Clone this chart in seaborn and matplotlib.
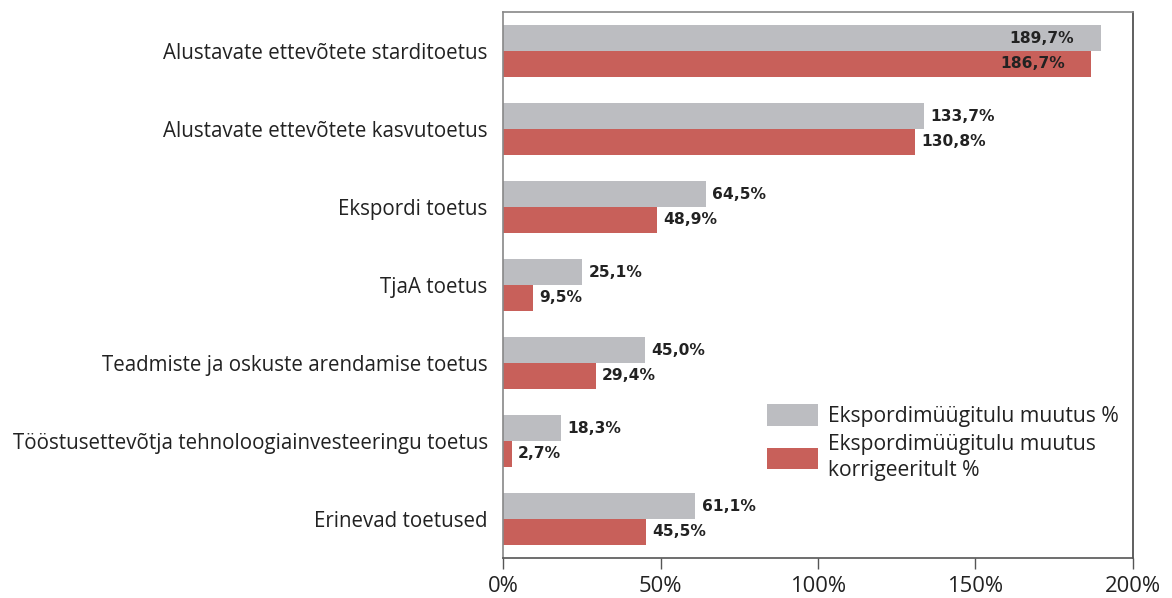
import matplotlib
matplotlib.use("Agg")
import matplotlib.pyplot as plt
import seaborn as sns
import pandas as pd

categories = [
    "Alustavate ettevõtete starditoetus",
    "Alustavate ettevõtete kasvutoetus",
    "Ekspordi toetus",
    "TjaA toetus",
    "Teadmiste ja oskuste arendamise toetus",
    "Tööstusettevõtja tehnoloogiainvesteeringu toetus",
    "Erinevad toetused",
]
series_names = ["Ekspordimüügitulu muutus %", "Ekspordimüügitulu muutus\nkorrigeeritult %"]
muutus = [189.7, 133.7, 64.5, 25.1, 45.0, 18.3, 61.1]
korrigeeritult = [186.7, 130.8, 48.9, 9.5, 29.4, 2.7, 45.5]
x_ticks = [0, 50, 100, 150, 200]
x_tick_labels = ["0%", "50%", "100%", "150%", "200%"]

colors = ["#BCBDC1", "#C8605A"]

df = pd.DataFrame({
    "Toetus": categories * 2,
    "Väärtus": muutus + korrigeeritult,
    "Seeria": [series_names[0]] * len(categories) + [series_names[1]] * len(categories),
})

sns.set_theme(style="white")
plt.rcParams["font.family"] = ["Open Sans", "DejaVu Sans"]

fig = plt.figure(figsize=(11.72, 5.98), dpi=100)
ax = fig.add_axes([0.4292, 0.0669, 0.9667 - 0.4292, 0.98 - 0.0669])

sns.barplot(data=df, y="Toetus", x="Väärtus", hue="Seeria", orient="h",
            palette=colors, width=0.66, gap=0, ax=ax, errorbar=None,
            saturation=1, linewidth=0)

ax.set_xlim(0, 200)
ax.set_xticks(x_ticks)
ax.set_xticklabels(x_tick_labels, fontsize=15.8, color="#222222")
ax.set_xlabel("")
ax.set_ylabel("")
ax.tick_params(axis="y", labelsize=14.8, colors="#222222", length=0, pad=11)
ax.tick_params(axis="x", direction="out", length=8, width=1, color="#555555", pad=5, bottom=True)

for side in ["top", "left", "right", "bottom"]:
    ax.spines[side].set_visible(True)
    ax.spines[side].set_linewidth(1.2)
ax.spines["top"].set_color("#888888")
ax.spines["left"].set_color("#888888")
ax.spines["right"].set_color("#444444")
ax.spines["bottom"].set_color("#555555")

for container in ax.containers:
    for bar in container:
        w = bar.get_width()
        yc = bar.get_y() + bar.get_height() / 2
        lbl = f"{w:.1f}%".replace(".", ",")
        if w > 170:
            ax.annotate(lbl, (w, yc), xytext=(-19, 0), textcoords="offset points",
                        ha="right", va="center", fontsize=11.2, fontweight="bold",
                        color="#222222", family="DejaVu Sans")
        else:
            ax.annotate(lbl, (w, yc), xytext=(4.5, 0), textcoords="offset points",
                        ha="left", va="center", fontsize=11.2, fontweight="bold",
                        color="#222222", family="DejaVu Sans")

leg = ax.legend(loc="upper left", bbox_to_anchor=(0.419, 0.282), frameon=False,
                fontsize=15.2, handlelength=2.4, handleheight=1.2, handletextpad=0.5,
                labelspacing=0.35, labelcolor="#222222", borderpad=0, borderaxespad=0)
for t in leg.get_texts():
    t.set_linespacing(1.3)

fig.savefig("out.png", dpi=100)
